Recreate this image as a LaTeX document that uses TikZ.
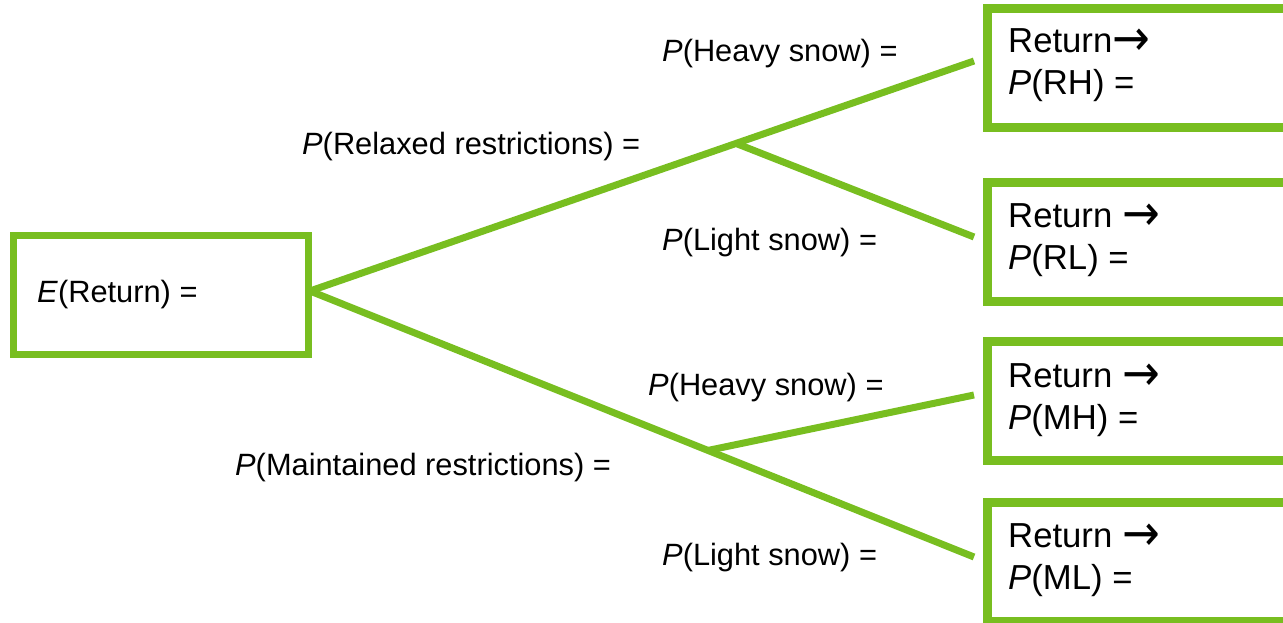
\documentclass[tikz,border=0pt]{standalone}
\usepackage{fontspec}
\setmainfont{Liberation Sans}
\newfontfamily\arrfont{DejaVu Sans}
\usetikzlibrary{calc}
\definecolor{treegreen}{RGB}{120,190,32}
\newcommand{\bigarr}{{\arrfont\raisebox{-3pt}{\scalebox{1.3}[1.45]{→}}}}
\begin{document}
\begin{tikzpicture}[x=1pt,y=-1pt,
  branch/.style={draw=treegreen, line width=7pt},
  lbl/.style={anchor=base west, inner sep=0pt, font=\fontsize{30.8}{36}\selectfont},
  boxtxt/.style={anchor=base west, inner sep=0pt, font=\fontsize{34.7}{42}\selectfont},
  rootbox/.style={draw=treegreen, fill=white, line width=7pt, anchor=north west, minimum width=295pt, minimum height=119pt, inner sep=0pt},
  leafbox/.style={draw=treegreen, fill=white, line width=9pt, anchor=north west, minimum width=330pt, minimum height=119pt, inner sep=0pt},
]
\useasboundingbox (0,0) rectangle (1283,623);
\clip (0,0) rectangle (1283,623);

% boxes
\node[rootbox] (root) at (10,232) {};
\node[leafbox] (rh) at (983,4) {};
\node[leafbox] (rl) at (983,178) {};
\node[leafbox] (mh) at (983,337) {};
\node[leafbox] (ml) at (983,498) {};

% connector points
\coordinate (start) at ($(root.east)+(-2,-4)$);
\coordinate (e1) at ($(rh.west)+(-9,-7)$);
\coordinate (e2) at ($(rl.west)+(-9,-5)$);
\coordinate (e3) at ($(mh.west)+(-9,-6)$);
\coordinate (e4) at ($(ml.west)+(-9,-5)$);
\coordinate (b1) at ($(start)!0.6416!(e1)$);
\coordinate (b2) at ($(start)!0.5994!(e4)$);

% connectors
\draw[branch] (start) -- (e1);
\draw[branch] (start) -- (e4);
\draw[branch] (b1) -- (e2);
\draw[branch] (b2) -- (e3);

% texts in boxes
\node[lbl] (etxt) at (37,302) {\textit{E}(Return) =};
\node[boxtxt] (rh1) at (1008,53) {Return\bigarr};
\node[boxtxt] (rh2) at (1008,95) {\textit{P}(RH) =};
\node[boxtxt] (rl1) at (1008,227) {Return \bigarr};
\node[boxtxt] (rl2) at (1008,269) {\textit{P}(RL) =};
\node[boxtxt] (mh1) at (1008,387) {Return \bigarr};
\node[boxtxt] (mh2) at (1008,429) {\textit{P}(MH) =};
\node[boxtxt] (ml1) at (1008,547) {Return \bigarr};
\node[boxtxt] (ml2) at (1008,589) {\textit{P}(ML) =};

% branch labels
\node[lbl] (l1) at (662,62) {\textit{P}(Heavy snow) =};
\node[lbl] (l2) at (302,155) {\textit{P}(Relaxed restrictions) =};
\node[lbl] (l3) at (662,250) {\textit{P}(Light snow) =};
\node[lbl] (l4) at (648,395) {\textit{P}(Heavy snow) =};
\node[lbl] (l5) at (235,475) {\textit{P}(Maintained restrictions) =};
\node[lbl] (l6) at (662,565) {\textit{P}(Light snow) =};
\end{tikzpicture}
\end{document}
